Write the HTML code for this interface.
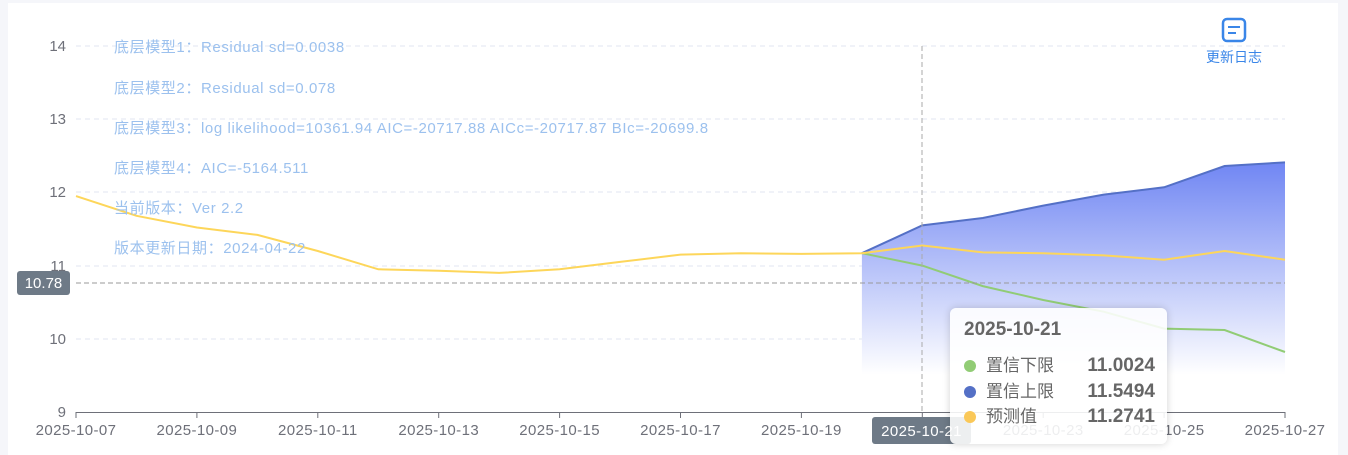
<!DOCTYPE html><html><head><meta charset="utf-8"><style>
body{margin:0;background:#f5f6fa;font-family:"Liberation Sans","Noto Sans CJK SC",sans-serif}
#c{position:absolute;left:8px;top:3px;width:1330px;height:452px;background:#fff}
.tt{position:absolute;left:950px;top:308px;width:217px;height:136px;background:rgba(255,255,255,0.88);border-radius:6px;box-shadow:0 0 8px rgba(0,0,0,0.18);color:#666;font-size:17px}
.tt .h{position:absolute;left:14px;top:11px;font-size:19px;font-weight:bold}
.row{position:absolute;left:14px;height:22px;line-height:22px;width:191px}
.row i{display:inline-block;width:12px;height:12px;border-radius:6px;margin-right:10px;vertical-align:-1px}
.row b{position:absolute;right:0;font-size:19px}
</style></head><body><div id="c"></div>
<svg width="1348" height="455" style="position:absolute;left:0;top:0">
<defs><linearGradient id="g" x1="0" y1="0" x2="0" y2="1"><stop offset="0" stop-color="#7086f3"/><stop offset="0.85" stop-color="#ffffff"/><stop offset="1" stop-color="#ffffff"/></linearGradient></defs>
<g stroke="#e0e6f1" stroke-dasharray="5,4">
<line x1="76" x2="1285" y1="46" y2="46"/><line x1="76" x2="1285" y1="119" y2="119"/><line x1="76" x2="1285" y1="192" y2="192"/><line x1="76" x2="1285" y1="266" y2="266"/><line x1="76" x2="1285" y1="339" y2="339"/></g>
<path d="M861.9,253.2 L922.3,225.4 982.8,218 1043.2,205.6 1103.7,194.6 1164.1,187.3 1224.6,166 1285,162.4 L1285,412 L861.9,412Z" fill="url(#g)"/>
<polyline fill="none" stroke="#5470c6" stroke-width="2" points="861.9,253.2 922.3,225.4 982.8,218 1043.2,205.6 1103.7,194.6 1164.1,187.3 1224.6,166 1285,162.4"/>
<polyline fill="none" stroke="#91cc75" stroke-width="2" points="861.9,253.2 922.3,265.6 982.8,286.1 1043.2,300 1103.7,311.7 1164.1,328.6 1224.6,330 1285,352"/>
<polyline fill="none" stroke="#fdd65a" stroke-width="2" points="76,196.1 136.5,215.8 196.9,227.5 257.4,234.9 317.8,251 378.3,269.3 438.7,270.7 499.2,272.9 559.6,269.3 620.1,261.9 680.5,254.6 741,253.2 801.4,253.9 861.9,253.2 922.3,245.5 982.8,252.4 1043.2,253.2 1103.7,255.4 1164.1,259.7 1224.6,251 1285,259.7"/>
<line x1="76" x2="1285" y1="283" y2="283" stroke="#999" stroke-dasharray="5,3"/>
<line x1="922" x2="922" y1="46" y2="412" stroke="#aaa" stroke-dasharray="5,3"/>
<line x1="76" x2="1285" y1="412.5" y2="412.5" stroke="#6e7079"/>
<g stroke="#6e7079"><line x1="76" x2="76" y1="412" y2="418"/><line x1="196.9" x2="196.9" y1="412" y2="418"/><line x1="317.8" x2="317.8" y1="412" y2="418"/><line x1="438.7" x2="438.7" y1="412" y2="418"/><line x1="559.6" x2="559.6" y1="412" y2="418"/><line x1="680.5" x2="680.5" y1="412" y2="418"/><line x1="801.4" x2="801.4" y1="412" y2="418"/><line x1="922.3" x2="922.3" y1="412" y2="418"/><line x1="1043.2" x2="1043.2" y1="412" y2="418"/><line x1="1164.1" x2="1164.1" y1="412" y2="418"/><line x1="1285" x2="1285" y1="412" y2="418"/></g>
<g fill="#6e7079" font-size="15" text-anchor="end"><text x="66" y="51">14</text><text x="66" y="124">13</text><text x="66" y="197">12</text><text x="66" y="271">11</text><text x="66" y="344">10</text><text x="66" y="417">9</text></g>
<g fill="#6e7079" font-size="15" text-anchor="middle" letter-spacing="0.4"><text x="76" y="435">2025-10-07</text><text x="196.9" y="435">2025-10-09</text><text x="317.8" y="435">2025-10-11</text><text x="438.7" y="435">2025-10-13</text><text x="559.6" y="435">2025-10-15</text><text x="680.5" y="435">2025-10-17</text><text x="801.4" y="435">2025-10-19</text><text x="1043.2" y="435">2025-10-23</text><text x="1164.1" y="435">2025-10-25</text><text x="1285" y="435">2025-10-27</text></g>
<rect x="17" y="271" width="53" height="24" rx="3" fill="#6e7a87"/><text x="43.5" y="288" fill="#fff" font-size="15" text-anchor="middle">10.78</text>
<rect x="872" y="417" width="99" height="27" rx="3" fill="#6e7a87"/><text x="921.5" y="436" fill="#fff" font-size="15" text-anchor="middle" letter-spacing="0.4">2025-10-21</text>
<g fill="#9cc1ee" font-size="15" letter-spacing="0.6"><text x="114" y="52">底层模型1：Residual sd=0.0038</text><text x="114" y="93">底层模型2：Residual sd=0.078</text><text x="114" y="133">底层模型3：log likelihood=10361.94 AIC=-20717.88 AICc=-20717.87 BIc=-20699.8</text><text x="114" y="173">底层模型4：AIC=-5164.511</text><text x="114" y="213">当前版本：Ver 2.2</text><text x="114" y="253">版本更新日期：2024-04-22</text></g>
<rect x="1223" y="19" width="22" height="22" rx="4" fill="none" stroke="#3a86e8" stroke-width="2.5"/><line x1="1228" x2="1240" y1="27" y2="27" stroke="#3a86e8" stroke-width="2"/><line x1="1228" x2="1236" y1="33" y2="33" stroke="#3a86e8" stroke-width="2"/>
<text x="1234" y="62" fill="#3a86e8" font-size="14" text-anchor="middle">更新日志</text>
</svg>
<div class="tt"><div class="h">2025-10-21</div>
<div class="row" style="top:47px"><i style="background:#91cc75"></i>置信下限<b>11.0024</b></div>
<div class="row" style="top:73px"><i style="background:#5470c6"></i>置信上限<b>11.5494</b></div>
<div class="row" style="top:98px"><i style="background:#fac858"></i>预测值<b>11.2741</b></div></div>
</body></html>
